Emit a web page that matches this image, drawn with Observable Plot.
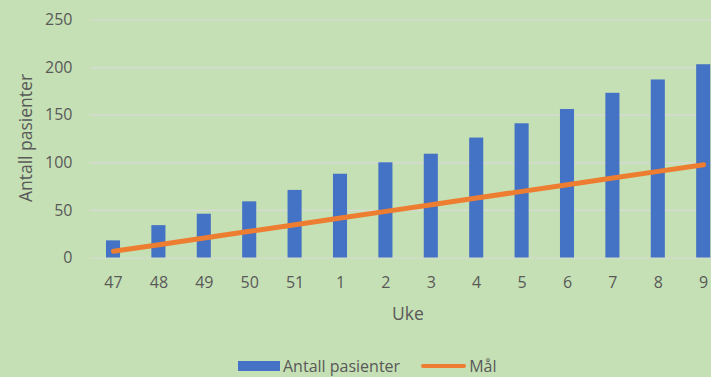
<!DOCTYPE html>
<html><head><meta charset="utf-8">
<script src="https://cdn.jsdelivr.net/npm/d3@7"></script>
<script src="https://cdn.jsdelivr.net/npm/@observablehq/plot@0.6"></script>
<style>
html,body{margin:0;padding:0;background:#C5E0B4;overflow:hidden;}
#wrap{position:relative;width:711px;height:377px;font-family:"Open Sans",sans-serif;color:#595959;}
#wrap svg{position:absolute;left:0;top:0;}
.lbl{position:absolute;white-space:nowrap;font-size:17.5px;line-height:20px;color:#595959;}
#legend{position:absolute;left:238px;top:356px;display:flex;align-items:center;font-size:16px;line-height:20px;color:#595959;white-space:nowrap;}
.sw{display:inline-block;}
</style></head>
<body><div id="wrap"></div>
<script>
const weeks = ["47","48","49","50","51","1","2","3","4","5","6","7","8","9"];
const patients = [18,34,46,59,71,88,100,109,126,141,156,173,187,203];
const goal = [7,14,21,28,35,42,49,56,63,70,77,84,91,98];
const yTicks = [0,50,100,150,200,250];
const seriesNames = ["Antall pasienter","Mål"];
const xLabel = "Uke";
const yLabel = "Antall pasienter";

const data = weeks.map((w,i)=>({week:w, patients:patients[i], goal:goal[i]}));

const chart = Plot.plot({
  width: 711, height: 377,
  marginLeft: 90, marginRight: 0, marginTop: 19.5, marginBottom: 119.5,
  style: {background: "transparent", fontFamily: "'Open Sans', sans-serif", fontSize: "16px", color: "#595959"},
  x: {domain: weeks, range: [90.3, 725.9], paddingInner: 0.69, paddingOuter: 0.345, round: false, label: null},
  y: {domain: [0,250], range: [257.5, 19.5], label: null},
  marks: [
    Plot.gridY(yTicks, {stroke: "#D9D9D9", strokeOpacity: 1, strokeWidth: 1.2}),
    Plot.barY(data, {x: "week", y: "patients", fill: "#4472C4"}),
    Plot.line(data, {x: "week", y: "goal", stroke: "#ED7D31", strokeWidth: 5, strokeLinecap: "round"}),
    Plot.axisY(yTicks, {tickSize: 0, tickPadding: 18, label: null, fill: "#595959"}),
    Plot.axisX({tickSize: 0, tickPadding: 19, label: null, fill: "#595959"})
  ]
});
const wrap = document.getElementById("wrap");
wrap.appendChild(chart);

const ux = document.createElement("div");
ux.className = "lbl"; ux.textContent = xLabel;
ux.style.left = "408px"; ux.style.top = "313px";
ux.style.transform = "translate(-50%,-50%)";
wrap.appendChild(ux);

const uy = document.createElement("div");
uy.className = "lbl"; uy.textContent = yLabel;
uy.style.left = "25px"; uy.style.top = "138px";
uy.style.transform = "translate(-50%,-50%) rotate(-90deg)";
wrap.appendChild(uy);

const lg = document.createElement("div");
lg.id = "legend";
lg.innerHTML = `<span class="sw" style="width:42px;height:10px;background:#4472C4;margin-right:3px"></span><span>${seriesNames[0]}</span>
<span class="sw" style="width:45px;height:4px;border-radius:2px;background:#ED7D31;margin-left:21px;margin-right:3px"></span><span>${seriesNames[1]}</span>`;
wrap.appendChild(lg);
</script></body></html>
